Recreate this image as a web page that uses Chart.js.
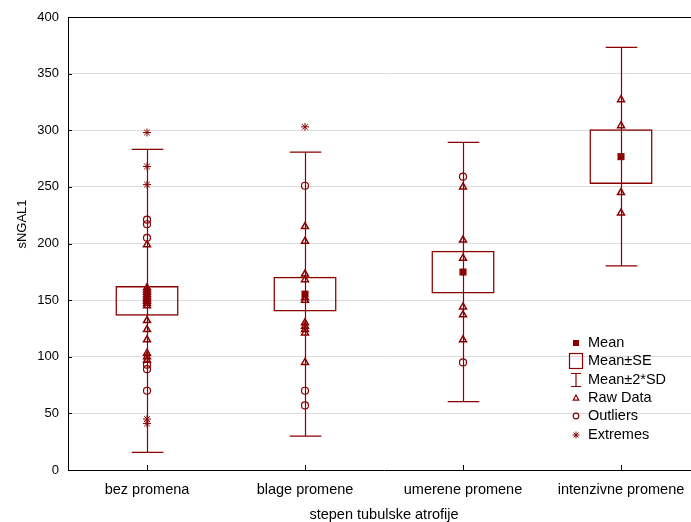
<!DOCTYPE html>
<html>
<head>
<meta charset="utf-8">
<script src="https://cdn.jsdelivr.net/npm/chart.js@4/dist/chart.umd.min.js"></script>
<style>
html, body { margin: 0; padding: 0; background: #fff; overflow: hidden; }
#wrap { width: 691px; height: 522px; overflow: hidden; }
canvas { display: block; }
</style>
</head>
<body>
<div id="wrap"><canvas id="chart" width="708" height="522"></canvas></div>
<script>
// categories and summary stats
const categories = ['bez promena', 'blage promene', 'umerene promene', 'intenzivne promene'];
const means = [149.3, 155.3, 174.8, 276.7];
const stdErr = [13.1, 15.4, 18.9, 24.2];
const twoSD = [133.8, 125.3, 114.5, 96.5];

// individual points per group
const rawData = [
    [199, 161, 159, 157, 155, 153, 151, 149, 147, 145, 132, 124, 115, 103, 100, 97],
    [215, 202, 173, 168, 152, 150, 130, 127, 124, 121, 95],
    [250, 203, 187, 144, 137, 115],
    [327, 304, 245, 227]
];
const outliers = [
    [221, 217, 205, 93, 89, 70],
    [251, 70, 57],
    [259, 95],
    []
];
const extremes = [
    [298, 268, 252, 45, 41],
    [303],
    [],
    []
];
const yTicks = [0, 50, 100, 150, 200, 250, 300, 350, 400];

const RED = '#8b0000';
const FONT = "'Liberation Sans', Arial, sans-serif";
const BIG = 14.5;

function toPoints(groups) {
    return groups.flatMap((vals, i) => vals.map(v => ({ x: categories[i], y: v })));
}

const whiskerPlugin = {
    id: 'whiskers',
    beforeDatasetsDraw(chart) {
        const { ctx, scales: { x, y } } = chart;
        const half = x.width / categories.length * 0.1;
        ctx.save();
        ctx.strokeStyle = RED;
        ctx.lineWidth = 1.2;
        categories.forEach((c, i) => {
            const px = Math.round(x.getPixelForValue(i)) + 0.5;
            const top = y.getPixelForValue(means[i] + twoSD[i]);
            const bot = y.getPixelForValue(means[i] - twoSD[i]);
            ctx.beginPath();
            ctx.moveTo(px, top); ctx.lineTo(px, bot);
            ctx.moveTo(px - half, top); ctx.lineTo(px + half, top);
            ctx.moveTo(px - half, bot); ctx.lineTo(px + half, bot);
            ctx.stroke();
        });
        ctx.restore();
    }
};

const framePlugin = {
    id: 'frame',
    afterDraw(chart) {
        const { ctx, chartArea: a, scales: { x, y } } = chart;
        ctx.save();
        ctx.strokeStyle = '#000';
        ctx.lineWidth = 1;
        ctx.beginPath();
        ctx.moveTo(a.left, a.top + 0.5); ctx.lineTo(a.right, a.top + 0.5);
        ctx.moveTo(a.right - 0.5, a.top); ctx.lineTo(a.right - 0.5, a.bottom);
        // inner ticks
        yTicks.forEach(v => {
            const py = Math.round(y.getPixelForValue(v)) + 0.5;
            ctx.moveTo(a.left, py); ctx.lineTo(a.left + 4, py);
        });
        categories.forEach((c, i) => {
            const px = Math.round(x.getPixelForValue(i)) + 0.5;
            ctx.moveTo(px, a.bottom); ctx.lineTo(px, a.bottom - 5);
        });
        ctx.stroke();

        // y title
        ctx.fillStyle = '#000';
        ctx.font = '13px ' + FONT;
        ctx.textAlign = 'center';
        ctx.textBaseline = 'middle';
        ctx.translate(22, 224);
        ctx.rotate(-Math.PI / 2);
        ctx.fillText('sNGAL1', 0, 0);
        ctx.restore();

        // legend
        ctx.save();
        const lx = 576, tx = 588;
        const rows = [343, 361, 380, 398, 416, 435];
        ctx.strokeStyle = RED;
        ctx.fillStyle = RED;
        ctx.lineWidth = 1.2;
        ctx.fillRect(lx - 3, rows[0] - 3, 6, 6);
        ctx.strokeRect(lx - 6.5, rows[1] - 7.5, 13, 15);
        ctx.beginPath();
        ctx.moveTo(lx, rows[2] - 6.5); ctx.lineTo(lx, rows[2] + 6.5);
        ctx.moveTo(lx - 5, rows[2] - 6.5); ctx.lineTo(lx + 5, rows[2] - 6.5);
        ctx.moveTo(lx - 5, rows[2] + 6.5); ctx.lineTo(lx + 5, rows[2] + 6.5);
        ctx.stroke();
        ctx.beginPath();
        ctx.moveTo(lx, rows[3] - 3); ctx.lineTo(lx + 2.8, rows[3] + 2.2); ctx.lineTo(lx - 2.8, rows[3] + 2.2);
        ctx.closePath();
        ctx.stroke();
        ctx.beginPath();
        ctx.arc(lx, rows[4], 2.8, 0, Math.PI * 2);
        ctx.stroke();
        ctx.lineWidth = 1;
        ctx.beginPath();
        ctx.moveTo(lx - 3.5, rows[5]); ctx.lineTo(lx + 3.5, rows[5]);
        ctx.moveTo(lx, rows[5] - 3.5); ctx.lineTo(lx, rows[5] + 3.5);
        ctx.moveTo(lx - 2.5, rows[5] - 2.5); ctx.lineTo(lx + 2.5, rows[5] + 2.5);
        ctx.moveTo(lx - 2.5, rows[5] + 2.5); ctx.lineTo(lx + 2.5, rows[5] - 2.5);
        ctx.stroke();

        ctx.fillStyle = '#000';
        ctx.font = BIG + 'px ' + FONT;
        ctx.textAlign = 'left';
        ctx.textBaseline = 'middle';
        ['Mean', 'Mean\u00b1SE', 'Mean\u00b12*SD', 'Raw Data', 'Outliers', 'Extremes']
            .forEach((t, i) => ctx.fillText(t, tx, rows[i]));
        ctx.restore();
    }
};

Chart.defaults.font.family = FONT;
Chart.defaults.font.size = 13;
Chart.defaults.color = '#000';

new Chart(document.getElementById('chart'), {
    type: 'bar',
    data: {
        labels: categories,
        datasets: [
            {
                label: 'Mean',
                type: 'line',
                showLine: false,
                data: categories.map((c, i) => ({ x: c, y: means[i] })),
                pointStyle: 'rect',
                pointRadius: 5,
                pointBackgroundColor: RED,
                pointBorderColor: RED,
                pointBorderWidth: 0,
                order: 1
            },
            {
                label: 'Raw Data',
                type: 'line',
                showLine: false,
                data: toPoints(rawData),
                pointStyle: 'triangle',
                pointRadius: 4,
                pointBackgroundColor: 'transparent',
                pointBorderColor: RED,
                pointBorderWidth: 1.5,
                order: 2
            },
            {
                label: 'Outliers',
                type: 'line',
                showLine: false,
                data: toPoints(outliers),
                pointStyle: 'circle',
                pointRadius: 3.5,
                pointBackgroundColor: 'transparent',
                pointBorderColor: RED,
                pointBorderWidth: 1.2,
                order: 2
            },
            {
                label: 'Extremes',
                type: 'line',
                showLine: false,
                data: toPoints(extremes),
                pointStyle: 'star',
                pointRadius: 4,
                pointBorderColor: RED,
                pointBorderWidth: 1,
                order: 2
            },
            {
                label: 'Mean\u00b1SE',
                data: categories.map((c, i) => [means[i] - stdErr[i], means[i] + stdErr[i]]),
                backgroundColor: 'transparent',
                borderColor: RED,
                borderWidth: 1.5,
                borderSkipped: false,
                barPercentage: 0.4,
                categoryPercentage: 1,
                order: 10
            }
        ]
    },
    options: {
        responsive: false,
        animation: false,
        events: [],
        layout: { padding: { left: 0, top: 17, right: 8, bottom: 0 } },
        plugins: {
            legend: { display: false },
            tooltip: { enabled: false }
        },
        scales: {
            x: {
                type: 'category',
                grid: { display: false, drawTicks: false },
                border: { color: '#000', width: 1 },
                ticks: { padding: 11, maxRotation: 0, font: { size: BIG } },
                title: { display: true, text: 'stepen tubulske atrofije', font: { size: BIG }, padding: { top: 0, bottom: -2 } },
                afterFit(scale) { scale.height = 52; }
            },
            y: {
                min: 0,
                max: 400,
                afterBuildTicks(scale) { scale.ticks = yTicks.map(v => ({ value: v })); },
                grid: {
                    drawTicks: false,
                    color: ctx => (ctx.tick && (ctx.tick.value === 0 || ctx.tick.value === 400)) ? 'transparent' : '#dcdcdc'
                },
                border: { color: '#000', width: 1 },
                ticks: { padding: 9 },
                afterFit(scale) { scale.width = 68; }
            }
        }
    },
    plugins: [whiskerPlugin, framePlugin]
});
</script>
</body>
</html>
